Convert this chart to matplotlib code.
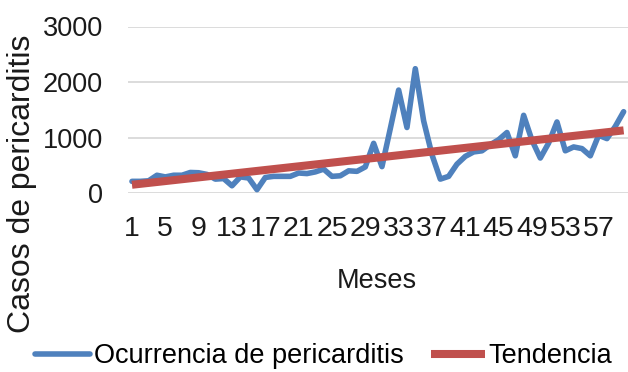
import numpy as np
import matplotlib
matplotlib.use("Agg")
import matplotlib.pyplot as plt

# Monthly pericarditis cases
months = list(range(1, 61))
cases = [210, 210, 220, 320, 290, 320, 320, 370, 365, 335,
         250, 260, 130, 290, 270, 60, 280, 300, 300, 300,
         360, 350, 380, 430, 300, 310, 400, 390, 470, 895,
         475, 1160, 1855, 1180, 2240, 1300, 690, 250, 300, 520,
         660, 740, 760, 870, 960, 1090, 670, 1400, 950, 630,
         900, 1280, 760, 830, 800, 670, 1040, 980, 1200, 1465]

series_label = "Ocurrencia de pericarditis"
trend_label = "Tendencia"
x_title = "Meses"
y_title = "Casos de pericarditis"
x_ticks = list(range(1, 58, 4))
y_ticks = [0, 1000, 2000, 3000]

# linear trend fitted to the monthly series
slope, intercept = np.polyfit(months, cases, 1)
trend = [slope * m + intercept for m in months]

font = "Liberation Sans"
ink = "#1a1a1a"

W, H = 628, 372
fig = plt.figure(figsize=(W / 100, H / 100), dpi=100)
left, right, bottom, top = 127.8, 627.8, 193, 26.5
ax = fig.add_axes([left / W, 1 - bottom / H, (right - left) / W, (bottom - top) / H])

blue = "#4F81BD"
red = "#C0504D"

ax.plot(months, cases, color=blue, lw=4.0, solid_joinstyle="round",
        solid_capstyle="round", clip_on=False, zorder=3, label=series_label)
ax.plot(months, trend, color=red, lw=5.8, solid_capstyle="butt",
        clip_on=False, zorder=4, label=trend_label)

ax.set_xlim(0.5, 60.5)
ax.set_ylim(0, 3000)
ax.set_xticks(x_ticks)
ax.set_yticks(y_ticks)
ax.grid(axis="y", color="#D9D9D9", lw=1.3)
ax.set_axisbelow(True)
for s in ax.spines.values():
    s.set_visible(False)
ax.tick_params(length=0, colors=ink)
ax.tick_params(axis="y", pad=18, labelsize=19.5)
ax.tick_params(axis="x", pad=16.9, labelsize=20.5)
for lab in ax.get_xticklabels() + ax.get_yticklabels():
    lab.set_fontfamily(font)

fig.text(377 / W, 1 - 288 / H, x_title, ha="center", va="baseline",
         fontsize=19.5, family=font, color=ink)
fig.text(22 / W, 1 - 184 / H, y_title, ha="center", va="center",
         rotation=90, fontsize=23, family=font, color=ink)

fig.legend(loc="center", bbox_to_anchor=(324 / W, 1 - 356 / H), ncol=2,
           frameon=False, prop={"family": font, "size": 19.5},
           handlelength=2.0, handletextpad=0.15, columnspacing=1.0,
           borderaxespad=0, borderpad=0)

fig.savefig("out.png", dpi=100, facecolor="white")
